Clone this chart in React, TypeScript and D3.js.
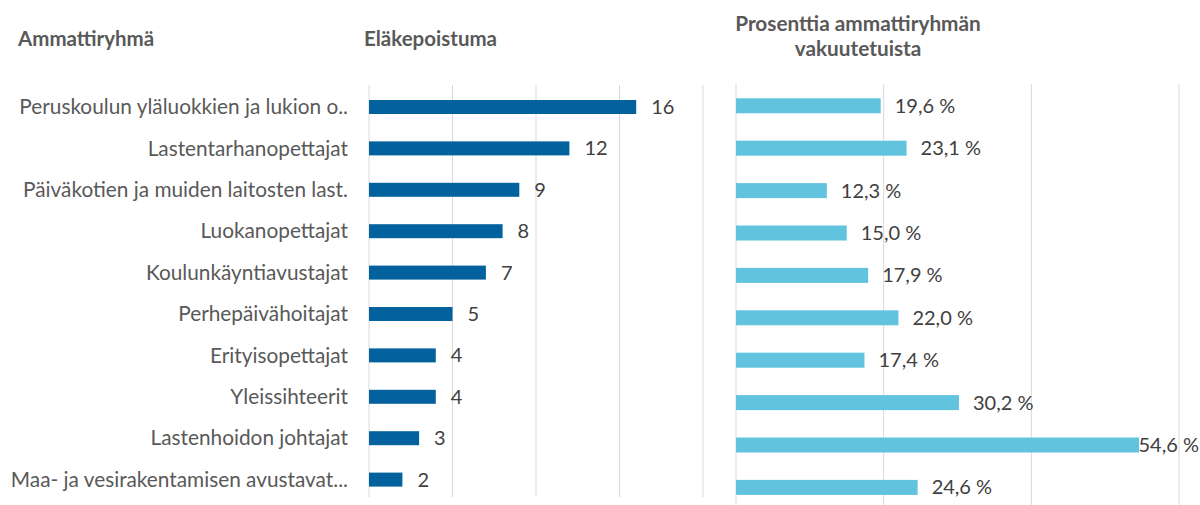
import React from "react";
import * as d3 from "d3";

const categories = [
  "Peruskoulun yläluokkien ja lukion o..",
  "Lastentarhanopettajat",
  "Päiväkotien ja muiden laitosten last.",
  "Luokanopettajat",
  "Koulunkäyntiavustajat",
  "Perhepäivähoitajat",
  "Erityisopettajat",
  "Yleissihteerit",
  "Lastenhoidon johtajat",
  "Maa- ja vesirakentamisen avustavat...",
];
const retirements = [16, 12, 9, 8, 7, 5, 4, 4, 3, 2];
const percentOfInsured = [19.6, 23.1, 12.3, 15.0, 17.9, 22.0, 17.4, 30.2, 54.6, 24.6];
const leftTicks = [0, 5, 10, 15, 20];
const rightTicks = [0, 20, 40, 60];

const W = 1200;
const H = 505;
const FONT = "Lato, 'Open Sans', sans-serif";
const TEXT = "#595959";
const GRID = "#d9d9d9";

export default function App() {
  const xL = d3.scaleLinear().domain([0, 20]).range([369, 703]);
  const yL = d3.scaleBand<string>().domain(categories).range([86.3, 500.3]).paddingInner(0.662).paddingOuter(0.331);
  const xR = d3.scaleLinear().domain([0, 60]).range([736, 1179]);
  const yR = d3.scaleBand<string>().domain(categories).range([84.6, 508.6]).paddingInner(0.646).paddingOuter(0.323);
  const fmt = (v: number) => v.toFixed(1).replace(".", ",") + " %";

  return (
    <svg width={W} height={H} style={{ position: "fixed", left: 0, top: 0, background: "#fff" }} fontFamily={FONT}>
      <rect width={W} height={H} fill="#fff" />
      {/* titles */}
      <text x={18} y={46} fontSize={20.5} fontWeight={700} fill={TEXT}>Ammattiryhmä</text>
      <text x={364} y={46} fontSize={20.5} fontWeight={700} fill={TEXT}>Eläkepoistuma</text>
      <text x={858} y={31} fontSize={20.8} fontWeight={700} fill={TEXT} textAnchor="middle">Prosenttia ammattiryhmän</text>
      <text x={858} y={56} fontSize={20.8} fontWeight={700} fill={TEXT} textAnchor="middle">vakuutetuista</text>

      {/* left grid */}
      {leftTicks.map((t) => (
        <line key={"gl" + t} x1={xL(t)} x2={xL(t)} y1={85} y2={497} stroke={GRID} strokeWidth={1} />
      ))}
      {/* right grid */}
      {rightTicks.map((t) => (
        <line key={"gr" + t} x1={xR(t)} x2={xR(t)} y1={84} y2={H} stroke={GRID} strokeWidth={1} />
      ))}

      {/* category labels */}
      {categories.map((c) => (
        <text key={"c" + c} x={348} y={(yL(c) as number) + yL.bandwidth() / 2} dy="0.35em" fontSize={20.8} fill={TEXT} textAnchor="end">
          {c}
        </text>
      ))}

      {/* left bars */}
      {categories.map((c, i) => (
        <g key={"lb" + c}>
          <rect x={xL(0)} y={yL(c) as number} width={xL(retirements[i]) - xL(0)} height={yL.bandwidth()} fill="#03619e" />
          <text x={xL(retirements[i]) + 15} y={(yL(c) as number) + yL.bandwidth() / 2} dy="0.35em" fontSize={20} fill="#404040">
            {retirements[i]}
          </text>
        </g>
      ))}

      {/* right bars */}
      {categories.map((c, i) => {
        const end = xR(percentOfInsured[i]);
        const overflow = end + 14 + 62 > W;
        return (
          <g key={"rb" + c}>
            <rect x={xR(0)} y={yR(c) as number} width={end - xR(0)} height={yR.bandwidth()} fill="#62c3de" />
            <text
              x={overflow ? W - 1 : end + 14}
              y={(yR(c) as number) + yR.bandwidth() / 2}
              dy="0.35em"
              fontSize={20}
              fill="#404040"
              textAnchor={overflow ? "end" : "start"}
            >
              {fmt(percentOfInsured[i])}
            </text>
          </g>
        );
      })}
    </svg>
  );
}
